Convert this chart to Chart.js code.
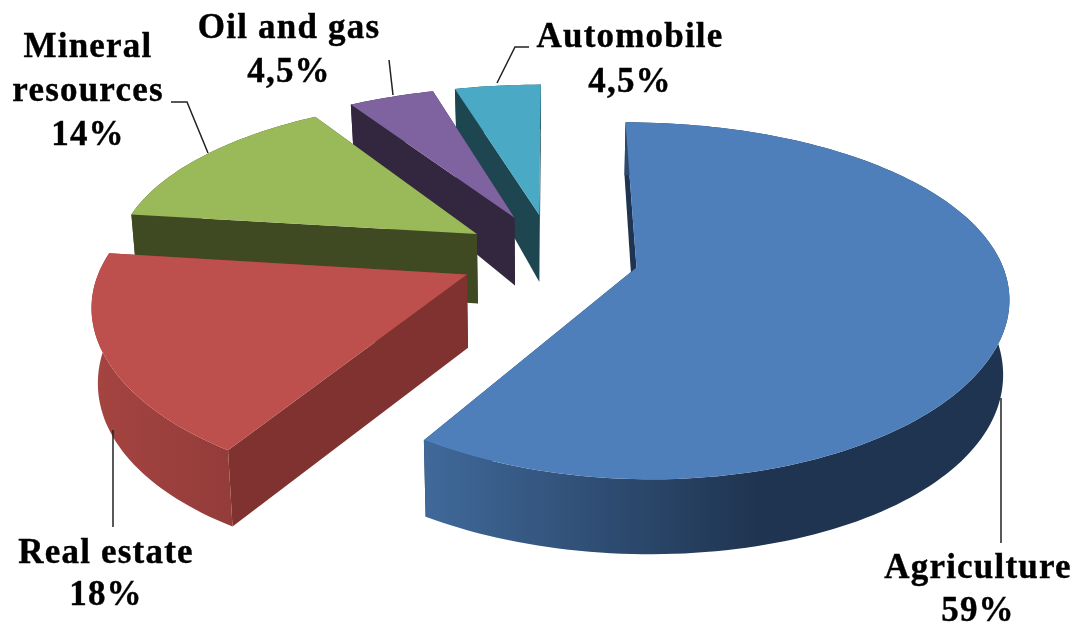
<!DOCTYPE html>
<html>
<head>
<meta charset="utf-8">
<script src="https://cdn.jsdelivr.net/npm/chart.js@4"></script>
<style>
  html, body { margin: 0; padding: 0; background: #fff; }
  canvas { display: block; }
</style>
</head>
<body>
<canvas id="pie" width="1078" height="625"></canvas>
<script>
const categories = ['Agriculture', 'Real estate', 'Mineral resources', 'Oil and gas', 'Automobile'];
const shares = [59, 18, 14, 4.5, 4.5];
const shareLabels = ['59%', '18%', '14%', '4,5%', '4,5%'];

// slice look: top face, cut wall, outer wall gradient
const topColors = ['#4e7fbb', '#bd4f4c', '#9aba5a', '#7f62a0', '#4aa9c4'];
const cutColors = ['#1f3450', '#7f3230', '#3f4a22', '#33273f', '#1e4650'];
const wallStops = [
  [[425, '#40699a'], [760, '#1f3450']],
  [[95, '#a54441'], [232, '#933c3a']],
  [[137, '#3f4a22'], [318, '#3f4a22']],
  [[353, '#33273f'], [434, '#33273f']],
  [[455, '#1e4650'], [540, '#1e4650']]
];
const explode = [0.24, 0.255, 0.25, 0.26, 0.26];

// label text blocks: centre x and one baseline per line, name lines come first
const labelBlocks = [
  { x: 978, nameLines: ['Agriculture'], ys: [578, 621] },
  { x: 106, nameLines: ['Real estate'], ys: [563, 605] },
  { x: 88, nameLines: ['Mineral', 'resources'], ys: [57, 101, 145] },
  { x: 289, nameLines: ['Oil and gas'], ys: [38, 82] },
  { x: 630, nameLines: ['Automobile'], ys: [47, 92] }
];
const leaders = [
  [[1001, 398], [1001, 543]],
  [[113, 430], [113, 527]],
  [[171, 102], [187, 102], [208, 153]],
  [[389, 60], [393, 95]],
  [[529, 47], [515, 47], [497, 83]]
];

// the tilted pie: top and bottom faces each get their own foreshortening
const cx = 552;
const topPlane = { cy: 256, sx: 363, sy: 168, kx: 0.148, ky: 0.185 };
const lowPlane = { cy: 327.5, sx: 358, sy: 183, kx: 0.148, ky: 0.13 };

const project = (x, y, plane) => [
  cx + plane.sx * x / (1 - plane.kx * y),
  plane.cy + plane.sy * y / (1 - plane.ky * y)
];

const pie3d = {
  id: 'pie3d',
  beforeDatasetsDraw(chart) {
    const { ctx } = chart;
    const arcs = chart.getDatasetMeta(0).data;
    // far slices first, so the nearer ones cover them
    for (let i = arcs.length - 1; i >= 0; i--) {
      const start = arcs[i].startAngle + Math.PI / 2;
      const end = arcs[i].endAngle + Math.PI / 2;
      const mid = (start + end) / 2;
      const ox = Math.sin(mid) * explode[i];
      const oy = -Math.cos(mid) * explode[i];
      const steps = Math.ceil((end - start) * 40);

      const rim = (plane) => {
        const pts = [];
        for (let s = 0; s <= steps; s++) {
          const a = start + (end - start) * s / steps;
          pts.push(project(ox + Math.sin(a), oy - Math.cos(a), plane));
        }
        return pts;
      };
      const fillPath = (pts, style) => {
        ctx.beginPath();
        pts.forEach((p, n) => (n ? ctx.lineTo(p[0], p[1]) : ctx.moveTo(p[0], p[1])));
        ctx.closePath();
        ctx.fillStyle = style;
        ctx.fill();
      };

      const topRim = rim(topPlane);
      const lowRim = rim(lowPlane);
      const apexTop = project(ox, oy, topPlane);
      const apexLow = project(ox, oy, lowPlane);

      // two cut walls
      fillPath([apexTop, topRim[0], lowRim[0], apexLow], cutColors[i]);
      fillPath([apexTop, topRim[steps], lowRim[steps], apexLow], cutColors[i]);

      // outer wall
      const stops = wallStops[i];
      const grad = ctx.createLinearGradient(stops[0][0], 0, stops[1][0], 0);
      stops.forEach((st, n) => grad.addColorStop(n, st[1]));
      fillPath(topRim.concat(lowRim.slice().reverse()), grad);

      // top face
      fillPath([apexTop].concat(topRim), topColors[i]);
    }
    return false;
  },
  // returning false above skips afterDatasetsDraw, so labels go here
  afterDraw(chart) {
    const { ctx } = chart;
    ctx.save();
    ctx.strokeStyle = '#222';
    ctx.lineWidth = 1.5;
    leaders.forEach((pts) => {
      ctx.beginPath();
      pts.forEach((p, n) => (n ? ctx.lineTo(p[0], p[1]) : ctx.moveTo(p[0], p[1])));
      ctx.stroke();
    });
    ctx.fillStyle = '#000';
    ctx.strokeStyle = '#000';
    ctx.lineWidth = 0.4;
    ctx.font = 'bold 35px "Liberation Serif"';
    ctx.letterSpacing = '1.2px';
    ctx.textAlign = 'center';
    ctx.textBaseline = 'alphabetic';
    labelBlocks.forEach((b, i) => {
      b.nameLines.concat(shareLabels[i]).forEach((t, n) => {
        ctx.fillText(t, b.x, b.ys[n]);
        ctx.strokeText(t, b.x, b.ys[n]);
      });
    });
    ctx.restore();
  }
};

new Chart(document.getElementById('pie'), {
  type: 'pie',
  data: {
    labels: categories,
    datasets: [{ data: shares, backgroundColor: topColors, borderWidth: 0 }]
  },
  options: {
    responsive: false,
    animation: false,
    plugins: { legend: { display: false }, tooltip: { enabled: false } }
  },
  plugins: [pie3d]
});
</script>
</body>
</html>
